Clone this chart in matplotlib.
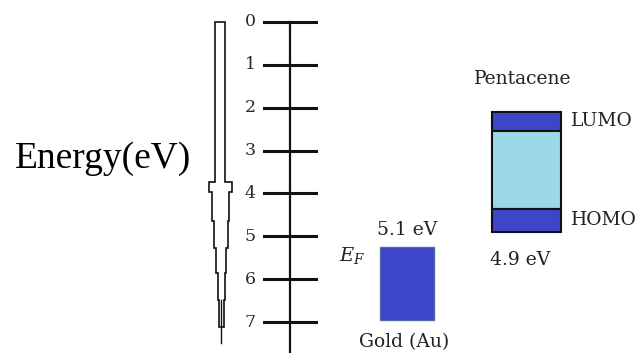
import matplotlib
matplotlib.use('Agg')
import matplotlib.pyplot as plt
from matplotlib.patches import Rectangle, Polygon

plt.rcParams['mathtext.fontset'] = 'dejavuserif'

# energy scale (eV), drawn downward
energy_ticks = [0, 1, 2, 3, 4, 5, 6, 7]

# gold (Au) work function block
gold_top = 5.25
gold_bottom = 6.95
gold_label = '5.1 eV'

# pentacene levels
pent_top = 2.10
lumo = 2.54
homo = 4.36
pent_bottom = 4.90
pent_label = '4.9 eV'

dark_blue = '#3d45c9'
light_blue = '#9bd8e8'

W, H = 640, 353
px_per_ev = 42.86
y0 = 22  # pixel row of 0 eV

def ev(py):
    # pixel row -> energy
    return (py - y0) / px_per_ev

fig = plt.figure(figsize=(W / 100, H / 100), dpi=100)
ax = fig.add_axes([0, 0, 1, 1])
ax.set_xlim(0, W)
ax.set_ylim(ev(H), ev(0))
ax.axis('off')

serif = 'DejaVu Serif'
txt = '#222222'

# energy axis
ax.plot([290, 290], [energy_ticks[0], ev(H)], color='#111111', lw=1.6)
for e in energy_ticks:
    ax.plot([264, 316], [e, e], color='#111111', lw=2.2)
    ax.text(250, e, str(e), ha='center', va='center', fontsize=12.5,
            family=serif, color='#2a2a2a')

ax.text(15, 3.41, 'Energy(eV)', ha='left', va='baseline', fontsize=27,
        family='Liberation Serif')

# probe drawing (pixel coords on an overlay)
deco = fig.add_axes([0, 0, 1, 1])
deco.set_xlim(0, W)
deco.set_ylim(H, 0)
deco.axis('off')
deco.patch.set_alpha(0)
probe = [(215, 22), (215, 182), (209, 182), (209, 192), (212, 192), (212, 221),
         (214, 221), (214, 248), (216, 248), (216, 273), (217.5, 273), (217.5, 300),
         (218.5, 300), (218.5, 327), (223.5, 327), (223.5, 300), (224.5, 300), (224.5, 273),
         (226, 273), (226, 248), (228, 248), (228, 221), (229, 221), (229, 192),
         (232, 192), (232, 182), (225, 182), (225, 22)]
deco.add_patch(Polygon(probe, closed=True, fill=False, ec='#111111', lw=1.2))
deco.plot([221, 221], [300, 343], color='#111111', lw=1.0)

# gold block
ax.add_patch(Rectangle((380, gold_top), 54, gold_bottom - gold_top,
                       fc=dark_blue, ec='#5a6aa8', lw=1.0))
ax.text(407, ev(230), gold_label, ha='center', va='center',
        fontsize=13.5, family=serif, color=txt)
ax.text(352, ev(255), r'$E_F$', ha='center', va='center',
        fontsize=14, color=txt)
ax.text(404, ev(342), 'Gold (Au)', ha='center', va='center',
        fontsize=13.5, family=serif, color=txt)

# pentacene block
ax.add_patch(Rectangle((492, pent_top), 69, lumo - pent_top, fc=dark_blue, ec='#111111', lw=1.5))
ax.add_patch(Rectangle((492, lumo), 69, homo - lumo, fc=light_blue, ec='#111111', lw=1.5))
ax.add_patch(Rectangle((492, homo), 69, pent_bottom - homo, fc=dark_blue, ec='#111111', lw=1.5))
ax.text(523, ev(79), 'Pentacene', ha='center', va='center',
        fontsize=13.5, family=serif, color=txt)
ax.text(571, (pent_top + lumo) / 2, 'LUMO', ha='left', va='center',
        fontsize=13.5, family=serif, color=txt)
ax.text(571, (homo + pent_bottom) / 2, 'HOMO', ha='left', va='center',
        fontsize=13.5, family=serif, color=txt)
ax.text(520, ev(260), pent_label, ha='center', va='center',
        fontsize=13.5, family=serif, color=txt)

fig.savefig('out.png', dpi=100)
